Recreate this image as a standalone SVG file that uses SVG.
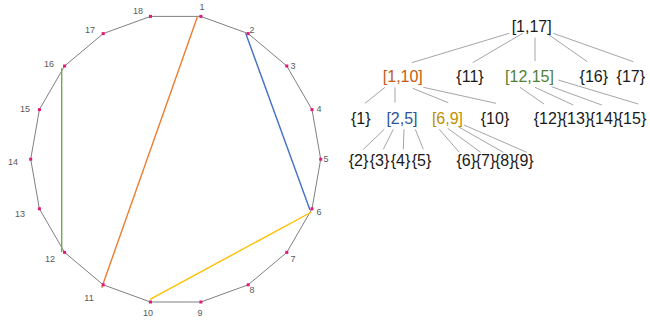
<svg xmlns="http://www.w3.org/2000/svg" width="650" height="320" viewBox="0 0 650 320">
<style>
.edge{stroke:#808080;stroke-width:1;fill:none}
.dot{fill:#E3187A}
.vl{font-family:"Liberation Sans",Arial,sans-serif;font-size:9px;fill:#595959;text-anchor:middle;dominant-baseline:central}
.tl{stroke:#A6A6A6;stroke-width:1;fill:none}
.t{font-family:"Liberation Sans",Arial,sans-serif;font-size:16px;fill:#1a1a1a;text-anchor:middle}
.or{fill:#C55A11}.bl{fill:#2F5597}.go{fill:#BF9000}.gr{fill:#538135}
</style>
<rect width="650" height="320" fill="#ffffff"/>
<g id="connectors">
<polygon class="edge" points="200.9,16.4 248.2,33.6 286.8,66 312,109.6 320.7,159.2 312,208.8 286.8,252.4 248.2,284.8 200.9,302 150.5,302 103.2,284.8 64.6,252.4 39.4,208.8 30.7,159.2 39.4,109.6 64.6,66 103.2,33.6 150.5,16.4"/>
<line x1="197.7" y1="16" x2="101.7" y2="287.7" stroke="#ED7D31" stroke-width="1.4"/>
<line x1="245.7" y1="33.3" x2="310" y2="210" stroke="#4472C4" stroke-width="1.4"/>
<line x1="61.7" y1="68.3" x2="61.7" y2="252.3" stroke="#70AD47" stroke-width="1.4"/>
<line x1="150" y1="299.3" x2="311.5" y2="212" stroke="#FFC000" stroke-width="1.4"/>
<line class="tl" x1="509.3" y1="33.3" x2="411.7" y2="62.7"/>
<line class="tl" x1="522.7" y1="33.3" x2="472.7" y2="62.7"/>
<line class="tl" x1="535" y1="37.7" x2="535" y2="61"/>
<line class="tl" x1="546.7" y1="33.3" x2="587.3" y2="61.7"/>
<line class="tl" x1="553.3" y1="33.3" x2="633.3" y2="61.7"/>
<line class="tl" x1="385" y1="87.3" x2="365" y2="103.3"/>
<line class="tl" x1="395" y1="87.3" x2="395" y2="102.7"/>
<line class="tl" x1="412.7" y1="88.3" x2="448.3" y2="102.7"/>
<line class="tl" x1="423.3" y1="87.3" x2="496" y2="103.3"/>
<line class="tl" x1="520" y1="87.3" x2="544" y2="104"/>
<line class="tl" x1="535" y1="87.3" x2="573.3" y2="105"/>
<line class="tl" x1="551.7" y1="86.7" x2="601.7" y2="105"/>
<line class="tl" x1="558.3" y1="80" x2="638.3" y2="104"/>
<line class="tl" x1="384.3" y1="129.3" x2="363.3" y2="149.3"/>
<line class="tl" x1="393.3" y1="129.3" x2="383.3" y2="149.3"/>
<line class="tl" x1="404" y1="129.3" x2="403.3" y2="149.3"/>
<line class="tl" x1="415.3" y1="129.3" x2="423.3" y2="149.3"/>
<line class="tl" x1="439.3" y1="129.3" x2="459.3" y2="152.3"/>
<line class="tl" x1="447.7" y1="128.3" x2="480.7" y2="152.3"/>
<line class="tl" x1="458.3" y1="126.7" x2="503.3" y2="152.3"/>
<line class="tl" x1="464" y1="125" x2="526.7" y2="152.3"/>
</g>
<g id="v1"><rect class="dot" x="199.4" y="14.9" width="3" height="3"/><text class="vl" x="202" y="7">1</text></g>
<g id="v2"><rect class="dot" x="246.7" y="32.1" width="3" height="3"/><text class="vl" x="252" y="30">2</text></g>
<g id="v3"><rect class="dot" x="285.3" y="64.5" width="3" height="3"/><text class="vl" x="293" y="66">3</text></g>
<g id="v4"><rect class="dot" x="310.5" y="108.1" width="3" height="3"/><text class="vl" x="319" y="109">4</text></g>
<g id="v5"><rect class="dot" x="319.2" y="157.7" width="3" height="3"/><text class="vl" x="326" y="159">5</text></g>
<g id="v6"><rect class="dot" x="310.5" y="207.3" width="3" height="3"/><text class="vl" x="319" y="212">6</text></g>
<g id="v7"><rect class="dot" x="285.3" y="250.9" width="3" height="3"/><text class="vl" x="293" y="259">7</text></g>
<g id="v8"><rect class="dot" x="246.7" y="283.3" width="3" height="3"/><text class="vl" x="252" y="290">8</text></g>
<g id="v9"><rect class="dot" x="199.4" y="300.5" width="3" height="3"/><text class="vl" x="200" y="313">9</text></g>
<g id="v10"><rect class="dot" x="149" y="300.5" width="3" height="3"/><text class="vl" x="148" y="313">10</text></g>
<g id="v11"><rect class="dot" x="101.7" y="283.3" width="3" height="3"/><text class="vl" x="89" y="298">11</text></g>
<g id="v12"><rect class="dot" x="63.1" y="250.9" width="3" height="3"/><text class="vl" x="50" y="259">12</text></g>
<g id="v13"><rect class="dot" x="37.9" y="207.3" width="3" height="3"/><text class="vl" x="20" y="214">13</text></g>
<g id="v14"><rect class="dot" x="29.2" y="157.7" width="3" height="3"/><text class="vl" x="13" y="162">14</text></g>
<g id="v15"><rect class="dot" x="37.9" y="108.1" width="3" height="3"/><text class="vl" x="25" y="109">15</text></g>
<g id="v16"><rect class="dot" x="63.1" y="64.5" width="3" height="3"/><text class="vl" x="49" y="64">16</text></g>
<g id="v17"><rect class="dot" x="101.7" y="32.1" width="3" height="3"/><text class="vl" x="90" y="30">17</text></g>
<g id="v18"><rect class="dot" x="149" y="14.9" width="3" height="3"/><text class="vl" x="138" y="11">18</text></g>
<g id="n1_17"><text class="t" x="531.7" y="31.5">[1,17]</text></g>
<g id="n1_10"><text class="t or" x="402.8" y="82">[1,10]</text></g>
<g id="n11"><text class="t" x="470" y="82">{11}</text></g>
<g id="n12_15"><text class="t gr" x="529.5" y="82">[12,15]</text></g>
<g id="n16"><text class="t" x="593.8" y="82">{16}</text></g>
<g id="n17"><text class="t" x="630.8" y="82">{17}</text></g>
<g id="n1"><text class="t" x="360.8" y="124">{1}</text></g>
<g id="n2_5"><text class="t bl" x="402" y="124">[2,5]</text></g>
<g id="n6_9"><text class="t go" x="447.5" y="124">[6,9]</text></g>
<g id="n10"><text class="t" x="495" y="124">{10}</text></g>
<g id="n12"><text class="t" x="548" y="124">{12}</text></g>
<g id="n13"><text class="t" x="576" y="124">{13}</text></g>
<g id="n14"><text class="t" x="604" y="124">{14}</text></g>
<g id="n15"><text class="t" x="632" y="124">{15}</text></g>
<g id="n2"><text class="t" x="358.5" y="166">{2}</text></g>
<g id="n3"><text class="t" x="379.5" y="166">{3}</text></g>
<g id="n4"><text class="t" x="400.5" y="166">{4}</text></g>
<g id="n5"><text class="t" x="421.5" y="166">{5}</text></g>
<g id="n6"><text class="t" x="466.3" y="166">{6}</text></g>
<g id="n7"><text class="t" x="485.5" y="166">{7}</text></g>
<g id="n8"><text class="t" x="504.7" y="166">{8}</text></g>
<g id="n9"><text class="t" x="523.9" y="166">{9}</text></g>
</svg>
